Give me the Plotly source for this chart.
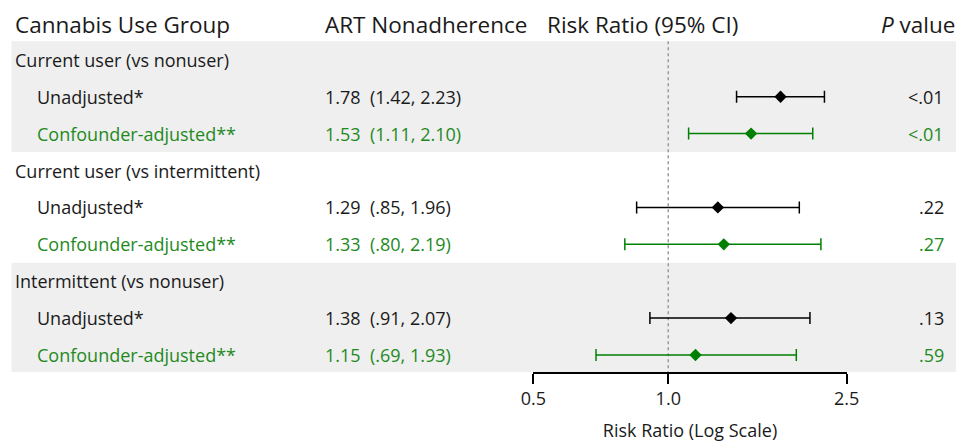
import math
import plotly.graph_objects as go

# ---- data ----
group_labels = ["Current user (vs nonuser)", "Current user (vs intermittent)", "Intermittent (vs nonuser)"]
sub_labels = ["Unadjusted*", "Confounder-adjusted**"]
rr_unadj = [1.78, 1.29, 1.38]
lo_unadj = [1.42, 0.85, 0.91]
hi_unadj = [2.23, 1.96, 2.07]
p_unadj = ["<.01", ".22", ".13"]
rr_adj = [1.53, 1.33, 1.15]
lo_adj = [1.11, 0.80, 0.69]
hi_adj = [2.10, 2.19, 1.93]
p_adj = ["<.01", ".27", ".59"]
tick_vals = [0.5, 1.0, 2.5]
tick_text = ["0.5", "1.0", "2.5"]
headers = ["Cannabis Use Group", "ART Nonadherence", "Risk Ratio (95% CI)", "<i>P</i> value"]
axis_title = "Risk Ratio (Log Scale)"

BLACK = "#1a1a1a"
GREEN = "#1e8a1e"
MARK_GREEN = "#008000"
FONT = "Open Sans"
W, H = 956, 434          # page body adds an 8px margin
OFF = 8


def px(xref_px):
    """picture pixel -> paper fraction"""
    return (xref_px - OFF) / W


def fmt(v):
    s = f"{v:.2f}"
    return s[1:] if s.startswith("0") else s


def ci_text(r, l, h):
    return f"{fmt(r)}\u00a0\u00a0({fmt(l)}, {fmt(h)})"


# row positions: header 0, group g at 3g+1, unadjusted 3g+2, adjusted 3g+3
y_unadj = [3 * g + 2 for g in range(3)]
y_adj = [3 * g + 3 for g in range(3)]

fig = go.Figure()
for xs, ys, lo, hi, col in [(rr_unadj, y_unadj, lo_unadj, hi_unadj, "black"),
                            (rr_adj, y_adj, lo_adj, hi_adj, MARK_GREEN)]:
    fig.add_trace(go.Scatter(
        x=xs, y=ys, mode="markers",
        marker=dict(symbol="diamond", size=9.5, color=col, line=dict(width=0)),
        error_x=dict(type="data", symmetric=False,
                     array=[h - r for h, r in zip(hi, xs)],
                     arrayminus=[r - l for r, l in zip(xs, lo)],
                     color=col, thickness=1.5, width=6),
        showlegend=False, hoverinfo="skip"))

shapes = []
for g in (0, 2):
    shapes.append(dict(type="rect", xref="paper", yref="y", x0=px(11.5), x1=1.0,
                       y0=3 * g + 0.5, y1=3 * g + 3.5, fillcolor="#efefef",
                       line=dict(width=0), layer="below"))
shapes.append(dict(type="line", xref="x", yref="y", x0=1, x1=1, y0=0.5, y1=9.5,
                   line=dict(color="#999999", width=1.5, dash="dot"), layer="below"))

ann = []
TP = 2  # annotation text padding
hx = [px(15 - TP), px(325 - TP), px(547 - TP), px(955 + TP)]
hanch = ["left", "left", "left", "right"]
for t, x, a in zip(headers, hx, hanch):
    ann.append(dict(text=t, x=x, y=0.03, xref="paper", yref="y", xanchor=a,
                    yanchor="middle", showarrow=False,
                    font=dict(size=22.5, color=BLACK, family=FONT)))
for g in range(3):
    ann.append(dict(text=group_labels[g], x=px(15 - TP), y=3 * g + 1, xref="paper", yref="y",
                    xanchor="left", yanchor="middle", showarrow=False,
                    font=dict(size=18, color=BLACK, family=FONT)))
    rows = [
        (y_unadj[g], sub_labels[0], ci_text(rr_unadj[g], lo_unadj[g], hi_unadj[g]), p_unadj[g], BLACK),
        (y_adj[g], sub_labels[1], ci_text(rr_adj[g], lo_adj[g], hi_adj[g]), p_adj[g], GREEN),
    ]
    for yy, lab, ci, p, col in rows:
        f = dict(size=18, color=col, family=FONT)
        ann.append(dict(text=lab, x=px(36.7 - TP), y=yy, xref="paper", yref="y",
                        xanchor="left", yanchor="middle", showarrow=False, font=f))
        ann.append(dict(text=ci, x=px(325 - TP), y=yy, xref="paper", yref="y",
                        xanchor="left", yanchor="middle", showarrow=False, font=f))
        ann.append(dict(text=p, x=px(943.5 + TP), y=yy, xref="paper", yref="y",
                        xanchor="right", yanchor="middle", showarrow=False, font=f))

fig.update_layout(
    width=W, height=H, autosize=False,
    margin=dict(l=0, r=0, t=0, b=70, autoexpand=False),
    paper_bgcolor="white", plot_bgcolor="rgba(0,0,0,0)",
    font=dict(family=FONT, color=BLACK),
    shapes=shapes, annotations=ann,
    xaxis=dict(type="log", range=[math.log10(0.5), math.log10(2.5)],
               domain=[px(533.3), px(846.7)], showline=True, linecolor="black",
               linewidth=1.5, ticks="outside", ticklen=10, tickwidth=1.5,
               tickcolor="black", showgrid=False, zeroline=False, automargin=False,
               tickvals=tick_vals, ticktext=tick_text,
               tickfont=dict(size=18, color=BLACK, family=FONT),
               title=dict(text=axis_title, standoff=18,
                          font=dict(size=18, color=BLACK, family=FONT))),
    yaxis=dict(visible=False, range=[9.46, -0.404], automargin=False),
)
fig.write_html("out.html")
